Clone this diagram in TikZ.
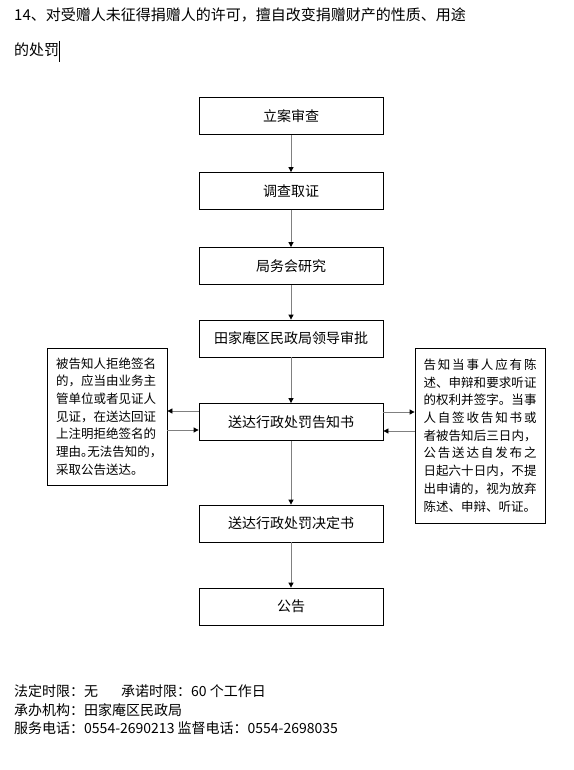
\documentclass[tikz,border=0pt]{standalone}
\usepackage{fontspec}
\setmainfont{Noto Sans CJK SC}
\XeTeXlinebreaklocale "zh"
\XeTeXlinebreakskip=0pt plus 3pt
\usetikzlibrary{arrows.meta}
\definecolor{linegray}{RGB}{128, 128, 128}
\tikzset{
  stepbox/.style={draw=black, line width=0.8pt, minimum width=184pt,
    minimum height=37pt, inner sep=0pt, font=\fontsize{14}{16}\selectfont},
  notebox/.style={draw=black, line width=0.8pt, inner ysep=0pt,
    font=\fontsize{12.5}{17.7}\selectfont},
  flowarrow/.style={draw=linegray, line width=0.8pt,
    -{Triangle[length=5pt, width=5pt, color=black]}},
  plaintext/.style={inner sep=0pt, anchor=west}
}

\begin{document}
\begin{tikzpicture}[x=1pt, y=-1pt]
  \useasboundingbox (0,0) rectangle (573,770);

  %% heading
  \node[plaintext, font=\fontsize{15}{18}\selectfont] (titleone) at (14,15)
    {14、对受赠人未征得捐赠人的许可，擅自改变捐赠财产的性质、用途};
  \node[plaintext, font=\fontsize{15}{18}\selectfont] (titletwo) at (14,50)
    {的处罚};
  \draw[black, line width=1pt] (59.5,41) -- (59.5,62);

  %% main column
  \node[stepbox] (filing)    at (291,116)   {立案审查};
  \node[stepbox] (inquiry)   at (291,191)   {调查取证};
  \node[stepbox] (meeting)   at (291,266)   {局务会研究};
  \node[stepbox] (approval)  at (291,338.5) {田家庵区民政局领导审批};
  \node[stepbox] (notice)    at (291,422)   {送达行政处罚告知书};
  \node[stepbox] (decision)  at (291,523.5) {送达行政处罚决定书};
  \node[stepbox] (bulletin)  at (291,606.5) {公告};

  \draw[flowarrow] (filing.south)   -- (inquiry.north);
  \draw[flowarrow] (inquiry.south)  -- (meeting.north);
  \draw[flowarrow] (meeting.south)  -- (approval.north);
  \draw[flowarrow] (approval.south) -- (notice.north);
  \draw[flowarrow] (notice.south)   -- (decision.north);
  \draw[flowarrow] (decision.south) -- (bulletin.north);

  %% side notes
  \node[notebox, inner xsep=9pt, text width=102pt, minimum height=137pt,
        align=left] (refusalnote) at (107,416.5)
    {被告知人拒绝签名\\的，应当由业务主\\管单位或者见证人\\见证，在送达回证\\上注明拒绝签名的\\
     {\addfontfeature{RawFeature=+halt}理由。无法告知的，}\\采取公告送达。};
  \node[notebox, inner xsep=8.5pt, text width=113pt, minimum height=175pt,
        align=justify] (rightsnote) at (480,435.5)
    {告知当事人应有陈\linebreak 述、申辩和要求听证\linebreak
     的权利并签字。当事\linebreak 人自签收告知书或\linebreak
     者被告知后三日内，\linebreak 公告送达自发布之\linebreak
     日起六十日内，不提\linebreak 出申请的，视为放弃\linebreak
     陈述、申辩、听证。};

  \draw[flowarrow] ([yshift=11pt]notice.west) -- ([yshift=11pt]notice.west -| refusalnote.east);
  \draw[flowarrow] ([yshift=-8pt]notice.west -| refusalnote.east) -- ([yshift=-8pt]notice.west);
  \draw[flowarrow] ([yshift=10pt]notice.east) -- ([yshift=10pt]notice.east -| rightsnote.west);
  \draw[flowarrow] ([yshift=-9pt]notice.east -| rightsnote.west) -- ([yshift=-9pt]notice.east);

  %% footer
  \node[plaintext, font=\fontsize{14}{16}\selectfont] (timelimit) at (14,690.7)
    {法定时限：无\hspace{23pt}承诺时限：60 个工作日};
  \node[plaintext, font=\fontsize{14}{16}\selectfont] (agency) at (14,710)
    {承办机构：田家庵区民政局};
  \node[plaintext, font=\fontsize{14}{16}\selectfont] (phone) at (14,728.3)
    {服务电话：0554-2690213 监督电话：0554-2698035};
\end{tikzpicture}
\end{document}
